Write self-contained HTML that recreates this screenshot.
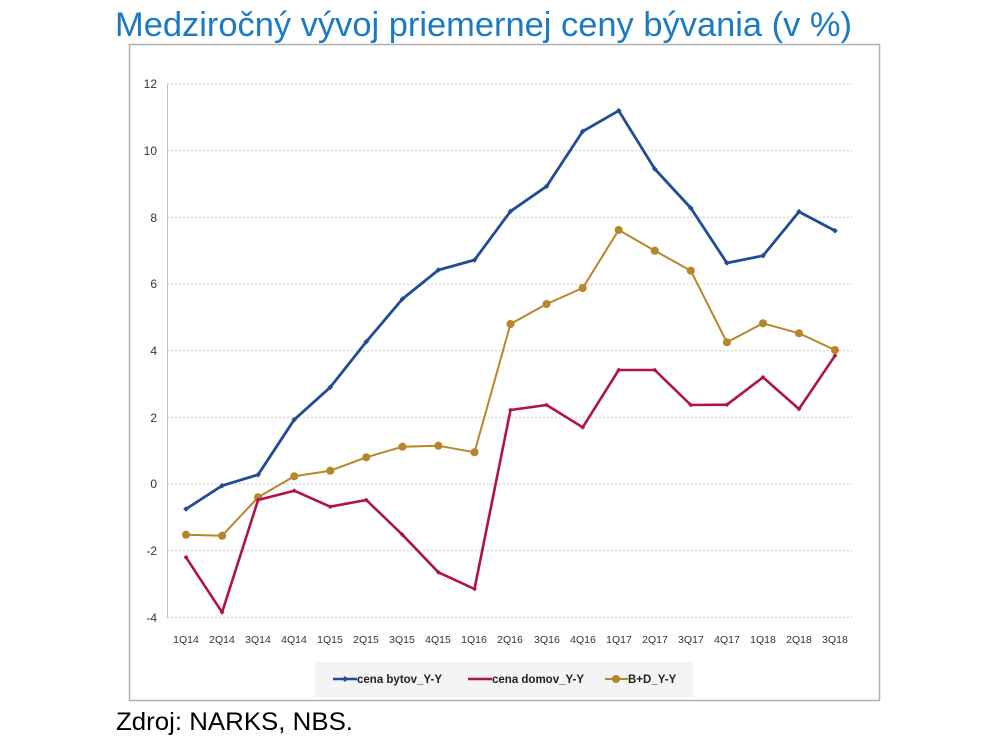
<!DOCTYPE html>
<html><head><meta charset="utf-8"><style>
body{margin:0;background:#fff;width:1000px;height:742px;overflow:hidden}
svg{display:block}
</style></head><body>
<svg width="1000" height="742" xmlns="http://www.w3.org/2000/svg" font-family="Liberation Sans, sans-serif">
<defs>
<marker id="mb" viewBox="-5 -5 10 10" markerWidth="7" markerHeight="7" markerUnits="userSpaceOnUse"><path d="M0,-4L4,0L0,4L-4,0Z" fill="#1f4e96"/></marker>
<marker id="mr" viewBox="-5 -5 10 10" markerWidth="6" markerHeight="6" markerUnits="userSpaceOnUse"><path d="M0,-4L4,0L0,4L-4,0Z" fill="#b0124a"/></marker>
<marker id="mg" viewBox="-5 -5 10 10" markerWidth="9" markerHeight="9" markerUnits="userSpaceOnUse"><circle r="4.5" fill="#b8862a"/></marker>
</defs>
<text x="115" y="36" font-size="34" fill="#1a7ac4" textLength="737" lengthAdjust="spacingAndGlyphs">Medziročný vývoj priemernej ceny bývania (v %)</text>
<rect x="129.5" y="44.5" width="750" height="656" fill="none" stroke="#b0b0b0" stroke-width="1.5"/>
<g stroke="#c8c8c8" stroke-dasharray="2,2" stroke-width="1">
<line x1="167" x2="852" y1="84" y2="84"/><line x1="167" x2="852" y1="150.7" y2="150.7"/>
<line x1="167" x2="852" y1="217.3" y2="217.3"/><line x1="167" x2="852" y1="284" y2="284"/>
<line x1="167" x2="852" y1="350.7" y2="350.7"/><line x1="167" x2="852" y1="417.3" y2="417.3"/>
<line x1="167" x2="852" y1="484" y2="484"/><line x1="167" x2="852" y1="550.7" y2="550.7"/>
<line x1="167" x2="852" y1="617.3" y2="617.3"/>
</g>
<line x1="167.5" x2="167.5" y1="84" y2="618" stroke="#c0c0c0"/>
<g font-size="12" fill="#333" text-anchor="end">
<text x="157" y="88">12</text><text x="157" y="155">10</text><text x="157" y="222">8</text>
<text x="157" y="288">6</text><text x="157" y="355">4</text><text x="157" y="422">2</text>
<text x="157" y="488">0</text><text x="157" y="555">-2</text><text x="157" y="622">-4</text>
</g>
<g font-size="10.5" fill="#333" text-anchor="middle">
<text x="186" y="643">1Q14</text><text x="222" y="643">2Q14</text><text x="258" y="643">3Q14</text><text x="294" y="643">4Q14</text>
<text x="330" y="643">1Q15</text><text x="366" y="643">2Q15</text><text x="402" y="643">3Q15</text><text x="438" y="643">4Q15</text>
<text x="474" y="643">1Q16</text><text x="510" y="643">2Q16</text><text x="547" y="643">3Q16</text><text x="583" y="643">4Q16</text>
<text x="619" y="643">1Q17</text><text x="655" y="643">2Q17</text><text x="691" y="643">3Q17</text><text x="727" y="643">4Q17</text>
<text x="763" y="643">1Q18</text><text x="799" y="643">2Q18</text><text x="835" y="643">3Q18</text>
</g>
<g fill="none" stroke-width="2.6" stroke-linejoin="round">
<polyline stroke="#b8862a" stroke-width="2" marker-start="url(#mg)" marker-mid="url(#mg)" marker-end="url(#mg)" points="186,534.7 222.1,535.7 258.1,497.3 294.2,476.3 330.2,470.7 366.3,457.3 402.4,446.7 438.4,445.7 474.5,452.3 510.5,324 546.6,304 582.7,288 618.7,230 654.8,250.7 690.8,270.7 726.9,342.3 763,323.3 799,333.3 835,350"/>
<polyline stroke="#b0124a" marker-start="url(#mr)" marker-mid="url(#mr)" marker-end="url(#mr)" points="186,557.3 222.1,612.3 258.1,500 294.2,490.7 330.2,506.7 366.3,500 402.4,534.7 438.4,572.3 474.5,589 510.5,410 546.6,405 582.7,427.3 618.7,370 654.8,370 690.8,405 726.9,404.7 763,377.3 799,409 835,355.7"/>
<polyline stroke="#1f4e96" stroke-width="2.8" marker-start="url(#mb)" marker-mid="url(#mb)" marker-end="url(#mb)" points="186,509 222.1,485.7 258.1,474.7 294.2,419.7 330.2,387.3 366.3,341.7 402.4,299 438.4,270 474.5,260 510.5,211.3 546.6,186.3 582.7,131.4 618.7,110.7 654.8,169 690.8,208 726.9,263 763,255.7 799,211.7 835,230.7"/>
</g>
<rect x="315" y="662" width="378" height="35" fill="#f4f4f4"/>
<g font-size="11.5" fill="#222" font-weight="bold">
<line x1="333" x2="357" y1="679" y2="679" stroke="#1f4e96" stroke-width="2.6"/><path d="M345,676L348,679L345,682L342,679Z" fill="#1f4e96"/>
<text x="357" y="683">cena bytov_Y-Y</text>
<line x1="468" x2="492" y1="679" y2="679" stroke="#b0124a" stroke-width="2.6"/>
<text x="492" y="683">cena domov_Y-Y</text>
<line x1="605" x2="628" y1="679" y2="679" stroke="#b8862a" stroke-width="2"/><circle cx="616" cy="679" r="4" fill="#b8862a"/>
<text x="628" y="683">B+D_Y-Y</text>
</g>
<text x="116" y="730" font-size="25" fill="#000" textLength="237" lengthAdjust="spacingAndGlyphs">Zdroj: NARKS, NBS.</text>
</svg>
</body></html>
